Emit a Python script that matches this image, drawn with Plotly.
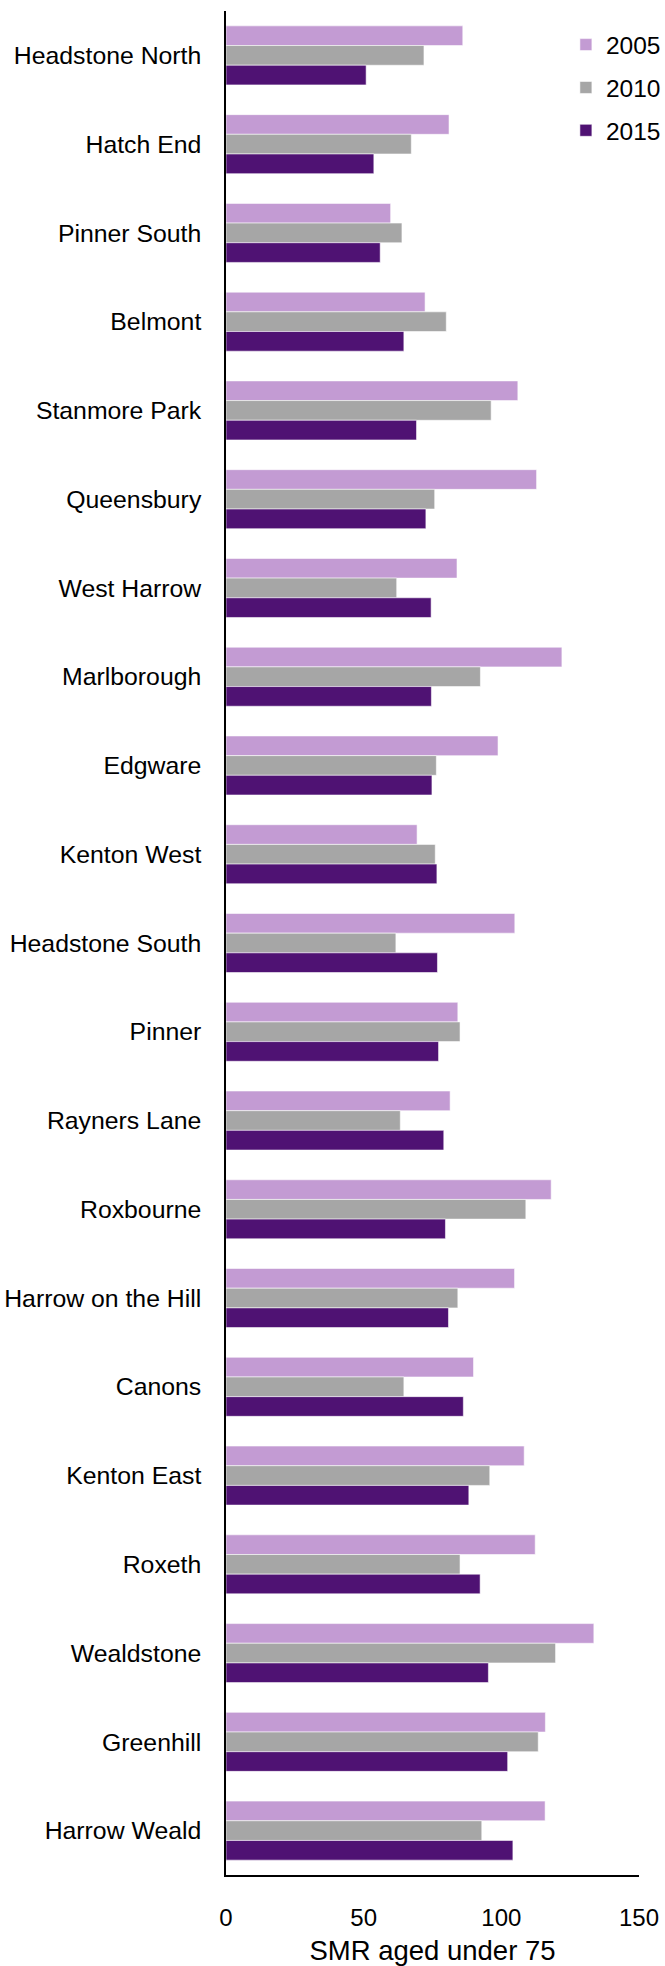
import plotly.graph_objects as go

# Wards, listed top to bottom
wards = [
    "Headstone North", "Hatch End", "Pinner South", "Belmont", "Stanmore Park",
    "Queensbury", "West Harrow", "Marlborough", "Edgware", "Kenton West",
    "Headstone South", "Pinner", "Rayners Lane", "Roxbourne", "Harrow on the Hill",
    "Canons", "Kenton East", "Roxeth", "Wealdstone", "Greenhill", "Harrow Weald",
]

# Standardised mortality ratio, deaths aged under 75
smr_2005 = [86.0, 81.0, 59.8, 72.3, 106.0, 112.8, 83.9, 122.0, 98.8, 69.4,
            104.9, 84.2, 81.4, 118.1, 104.8, 89.9, 108.3, 112.3, 133.6, 116.0, 115.9]
smr_2010 = [71.9, 67.3, 63.9, 80.0, 96.3, 75.8, 62.0, 92.4, 76.4, 76.0,
            61.7, 85.0, 63.3, 108.9, 84.2, 64.6, 95.8, 85.0, 119.7, 113.4, 92.9]
smr_2015 = [50.9, 53.7, 56.0, 64.6, 69.2, 72.6, 74.5, 74.6, 74.8, 76.6,
            76.8, 77.2, 79.1, 79.7, 80.8, 86.2, 88.2, 92.3, 95.3, 102.3, 104.2]

years = ["2005", "2010", "2015"]
series = [smr_2005, smr_2010, smr_2015]
colors = ["#C39BD3", "#A6A6A6", "#4F1273"]

FONT = "Arial, Liberation Sans, sans-serif"

fig = go.Figure()
for year, vals, col in zip(years, series, colors):
    fig.add_trace(go.Bar(
        y=wards, x=vals, name=year, orientation="h",
        marker=dict(color=col, line=dict(color="rgba(255,255,255,0.7)", width=0.8)),
        legendgroup=year,
    ))

fig.update_layout(
    width=665, height=1966,
    margin=dict(l=226, r=26, t=11, b=91, autoexpand=False),
    paper_bgcolor="white", plot_bgcolor="white",
    font=dict(family=FONT, size=24.5, color="black"),
    barmode="group", bargap=0.335, bargroupgap=0,
    showlegend=True,
    legend=dict(
        x=0.823, xanchor="left", y=0.994, yanchor="top",
        xref="paper", yref="paper",
        font=dict(family=FONT, size=24.5, color="black"),
        traceorder="grouped", tracegroupgap=8,
        bgcolor="rgba(0,0,0,0)",
    ),
)

fig.update_xaxes(
    range=[0, 150], tickvals=[0, 50, 100, 150], ticktext=["0", "50", "100", "150"],
    showgrid=False, zeroline=False, automargin=False,
    showline=True, linecolor="black", linewidth=1.5,
    ticks="outside", ticklen=20, tickcolor="rgba(0,0,0,0)",
    tickfont=dict(family=FONT, size=24, color="black"),
    title=dict(text="SMR aged under 75", font=dict(family=FONT, size=27.5, color="black"),
               standoff=18),
)
fig.update_yaxes(
    autorange="reversed",
    showgrid=False, zeroline=False, automargin=False,
    showline=True, linecolor="black", linewidth=1.5,
    ticks="outside", ticklen=18, tickcolor="rgba(0,0,0,0)",
    tickfont=dict(family=FONT, size=24.8, color="black"),
)

fig.write_html("out.html")
